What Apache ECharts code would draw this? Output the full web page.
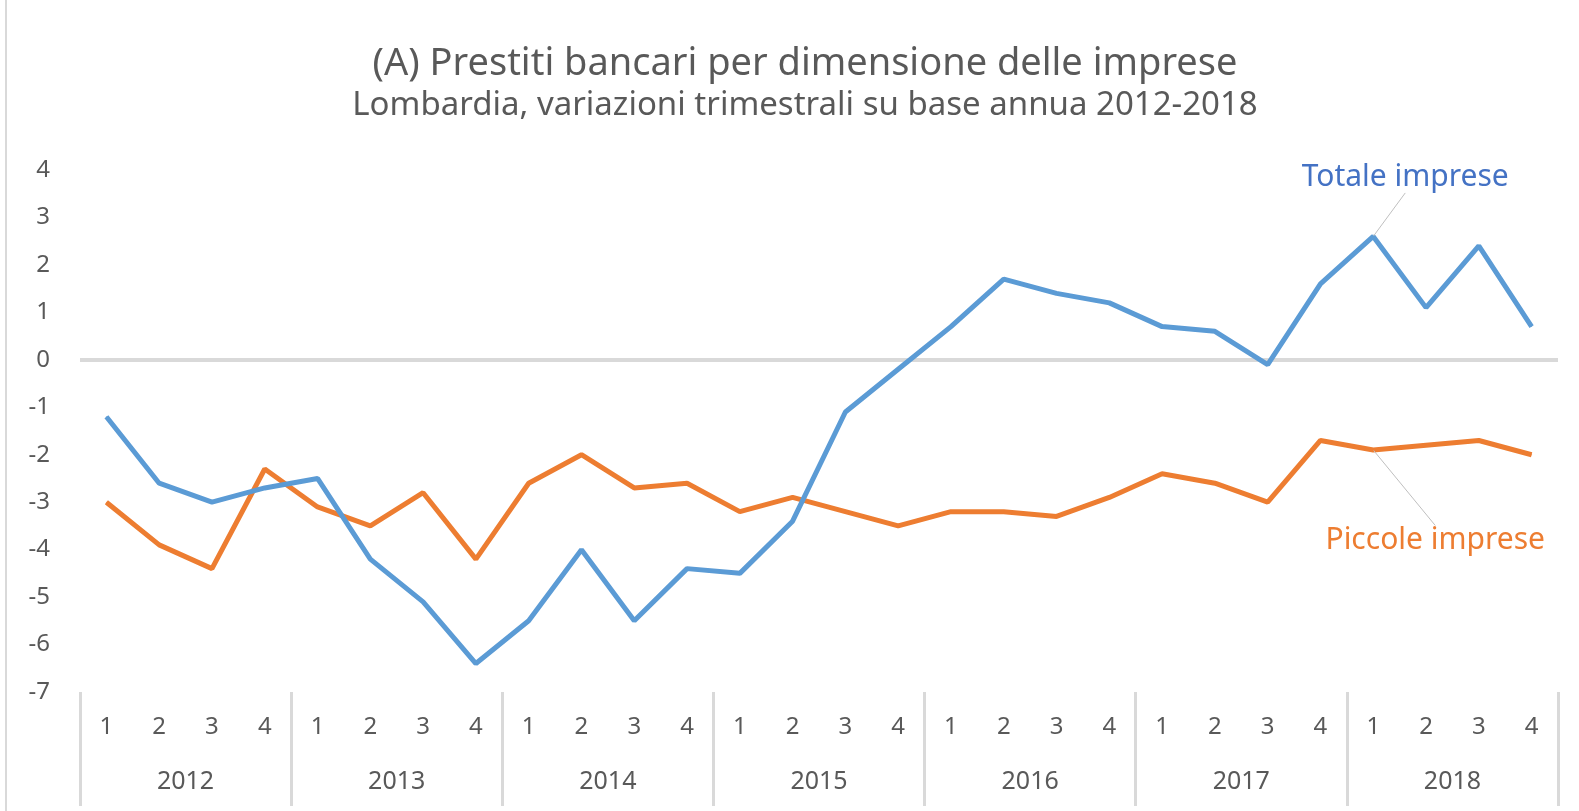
<!DOCTYPE html>
<html>
<head>
	<meta charset="UTF-8">
	<title>Prestiti bancari per dimensione delle imprese</title>
	<style type="text/css">
		html, body {
			margin: 0;
			padding: 0;
			background: #fff;
		}
		#main {
			width: 1579px;
			height: 811px;
		}
	</style>
</head>
<body>
	<div id="main"></div>
	<script type="text/javascript" src="https://cdn.jsdelivr.net/npm/echarts@6/dist/echarts.min.js"></script>
	<script>
		// trimestri e anni
		var quarters = [];
		var years = ['2012', '2013', '2014', '2015', '2016', '2017', '2018'];
		for (var i = 0; i < years.length; i++) {
			quarters.push('1', '2', '3', '4');
		}
		//totale imprese
		var totale = [-1.2, -2.6, -3.0, -2.7, -2.5, -4.2, -5.1, -6.4, -5.5, -4.0, -5.5, -4.4, -4.5, -3.4,
			-1.1, -0.2, 0.7, 1.7, 1.4, 1.2, 0.7, 0.6, -0.1, 1.6, 2.6, 1.1, 2.4, 0.7];
		//piccole imprese
		var piccole = [-3.0, -3.9, -4.4, -2.3, -3.1, -3.5, -2.8, -4.2, -2.6, -2.0, -2.7, -2.6, -3.2, -2.9,
			-3.2, -3.5, -3.2, -3.2, -3.3, -2.9, -2.4, -2.6, -3.0, -1.7, -1.9, -1.8, -1.7, -2.0];
		var yTicks = [-7, -6, -5, -4, -3, -2, -1, 0, 1, 2, 3, 4];
		var labelIndex = 24;

		var font = "'Noto Sans', 'Open Sans', sans-serif";
		var grey = '#595959';

		var chart = echarts.init(document.getElementById('main'));

		function withLabel(arr, text, color, pos) {
			var out = [];
			for (var i = 0; i < arr.length; i++) {
				if (i == labelIndex) {
					out.push({
						value: arr[i],
						label: {
							show: true,
							formatter: text,
							position: pos,
							color: color,
							fontFamily: font,
							fontSize: 30
						}
					});
				} else {
					out.push(arr[i]);
				}
			}
			return out;
		}

		var option = {
			animation: false,
			title: {
				text: '(A) Prestiti bancari per dimensione delle imprese',
				subtext: 'Lombardia, variazioni trimestrali su base annua 2012-2018',
				left: 800,
				textAlign: 'center',
				top: 37,
				itemGap: 1,
				textStyle: {
					fontFamily: font,
					fontSize: 38,
					lineHeight: 44,
					fontWeight: 'normal',
					color: grey
				},
				subtextStyle: {
					fontFamily: font,
					fontSize: 33,
					lineHeight: 38,
					color: grey
				}
			},
			grid: {
				left: 80,
				right: 21,
				top: 170,
				bottom: 119
			},
			graphic: [{
				type: 'line',
				shape: { x1: 6, y1: 0, x2: 6, y2: 811 },
				style: { stroke: '#d9d9d9', lineWidth: 2 }
			}],
			xAxis: [{
				type: 'category',
				data: quarters,
				boundaryGap: true,
				axisLine: { show: false },
				axisTick: { show: false },
				axisLabel: {
					interval: 0,
					margin: 23,
					color: grey,
					fontFamily: font,
					fontSize: 24
				}
			}, {
				type: 'category',
				data: years,
				position: 'bottom',
				boundaryGap: true,
				axisLine: { show: false },
				axisTick: {
					show: true,
					length: 114,
					lineStyle: { color: '#d9d9d9', width: 3 }
				},
				axisLabel: {
					interval: 0,
					margin: 77,
					color: grey,
					fontFamily: font,
					fontSize: 25
				}
			}],
			yAxis: {
				type: 'value',
				min: yTicks[0],
				max: yTicks[yTicks.length - 1],
				interval: 1,
				axisLine: { show: false },
				axisTick: { show: false },
				splitLine: { show: false },
				axisLabel: {
					margin: 30,
					color: grey,
					fontFamily: font,
					fontSize: 24
				}
			},
			series: [{
				name: 'Totale imprese',
				type: 'line',
				xAxisIndex: 0,
				data: withLabel(totale, 'Totale imprese', '#4472c4', 'top'),
				symbol: 'circle',
				symbolSize: 1,
				showSymbol: true,
				lineStyle: { color: '#5b9bd5', width: 5 },
				itemStyle: { color: '#5b9bd5' },
				z: 3,
				labelLayout: function (p) {
					return p.dataIndex == labelIndex ? { dx: 32, dy: -38 } : {};
				},
				labelLine: {
					show: true,
					lineStyle: { color: '#bfbfbf', width: 1 }
				},
				markLine: {
					silent: true,
					symbol: 'none',
					label: { show: false },
					lineStyle: { color: '#d9d9d9', width: 4, type: 'solid' },
					data: [{ yAxis: 0 }],
					z: 1
				}
			}, {
				name: 'Piccole imprese',
				type: 'line',
				xAxisIndex: 0,
				data: withLabel(piccole, 'Piccole imprese', '#ed7d31', 'bottom'),
				symbol: 'circle',
				symbolSize: 1,
				showSymbol: true,
				lineStyle: { color: '#ed7d31', width: 5 },
				itemStyle: { color: '#ed7d31' },
				z: 2,
				labelLayout: function (p) {
					return p.dataIndex == labelIndex ? { dx: 62, dy: 70 } : {};
				},
				labelLine: {
					show: true,
					lineStyle: { color: '#bfbfbf', width: 1 }
				}
			}]
		};
		chart.setOption(option);
	</script>
</body>
</html>
